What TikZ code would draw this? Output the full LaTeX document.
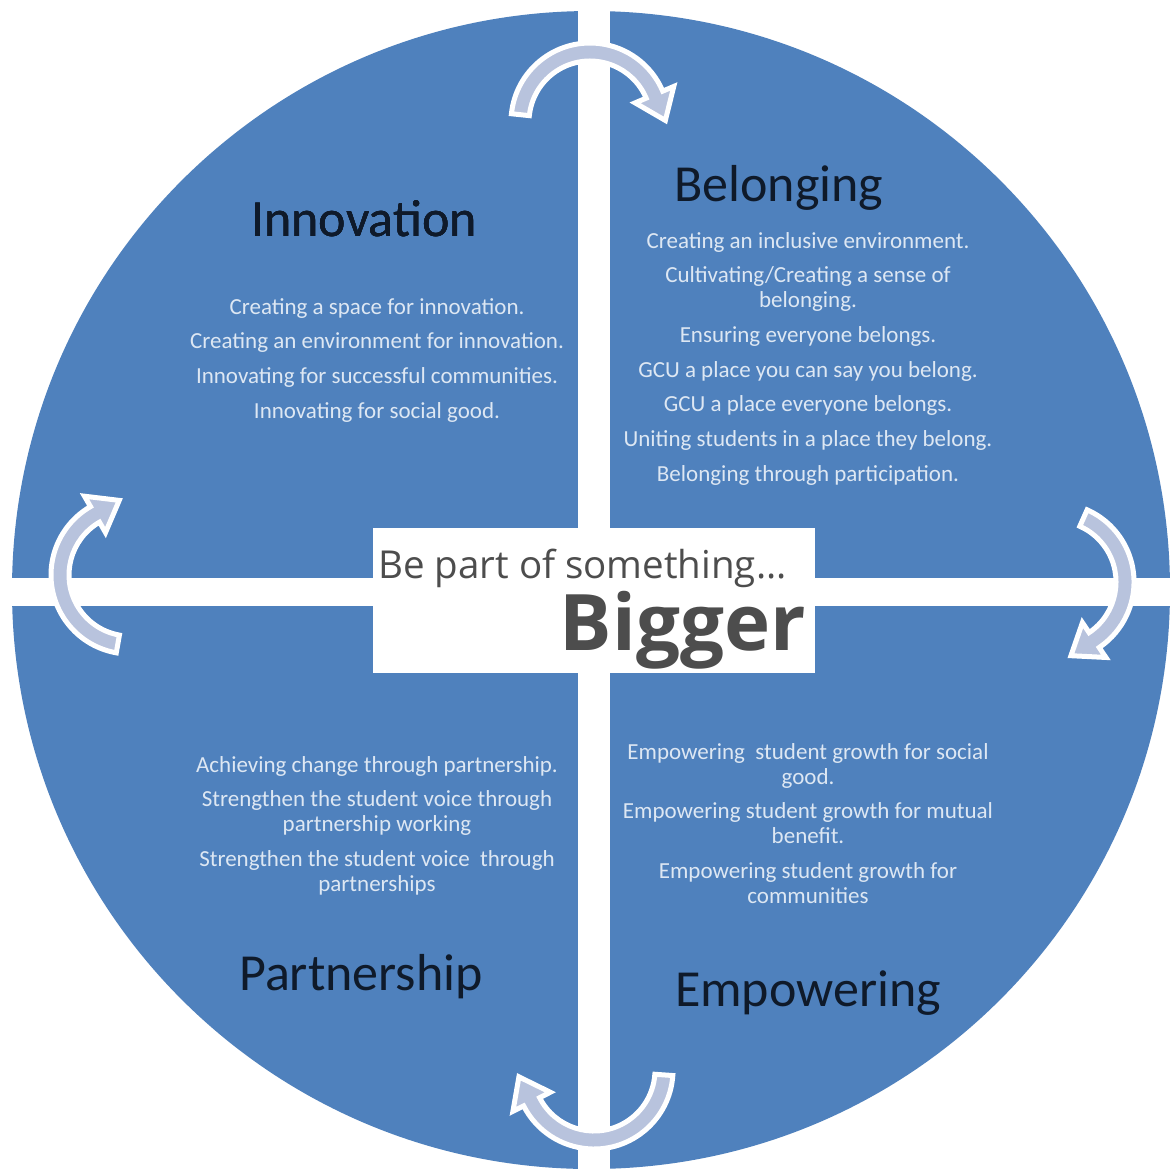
\documentclass[tikz,border=0pt]{standalone}
\usepackage{fontspec}
\setmainfont{Carlito}
\newfontfamily\slogfont{Open Sans}
\usetikzlibrary{calc}
\usepackage{xcolor}
\definecolor{discblue}{HTML}{4F81BD}
\definecolor{itemtext}{HTML}{DDE7F3}
\definecolor{headtext}{HTML}{0F1A2A}
\definecolor{arrowgrey}{HTML}{B8C3DD}
\definecolor{slogan}{HTML}{4D4D4D}
\tikzset{
    heading/.style={text=headtext,font=\fontsize{52}{60}\selectfont,inner sep=0pt,anchor=base},
    items/.style={text=itemtext,align=center,font=\fontsize{23}{25}\selectfont,inner sep=0pt,anchor=north},
    bendarrow/.style={fill=arrowgrey,draw=white,line width=5pt,line join=miter}
}
\newcommand{\bend}[4] {
    \draw[bendarrow] ($(#1,#2)+(#3:79)$) arc[start angle=#3,end angle=#4,radius=79]
        -- ($(#1,#2)+(#4:91)$)
        -- ($(#1,#2)+(#4:70)+({#4+90}:28)$)
        -- ($(#1,#2)+(#4:49)$)
        -- ($(#1,#2)+(#4:61)$)
        arc[start angle=#4,end angle=#3,radius=61] -- cycle;
}

\begin{document}
\begin{tikzpicture}[x=1pt,y=-1pt]
    \useasboundingbox[fill=white] (0,0) rectangle (1172,1171);
    \fill[discblue] (591,590) circle[radius=579];
    \fill[white] (578,0) rectangle (610,1171);
    \fill[white] (0,578) rectangle (1172,606);
    \fill[white] (373,528) rectangle (815,673);
    \foreach \cx/\cy/\from/\to in {590/122/186/337, 1055/582/-66/56, 594/1070/4/153, 130/575/100/240}
        \bend{\cx}{\cy}{\from}{\to}
    \node[heading] (innovation) at (364,236) {Innovation};
    \node[heading] (belonging) at (779,201) {Belonging};
    \node[heading] (partnership) at (361,990) {Partnership};
    \node[heading] (empowering) at (808,1006) {Empowering};
    \node[items] (innovationlist) at (377,298) {Creating a space for innovation.\\[9.7pt]
        Creating an environment for innovation.\\[9.7pt]
        Innovating for successful communities.\\[9.7pt]
        Innovating for social good.};
    \node[items] (belonginglist) at (808,232) {Creating an inclusive environment.\\[9.7pt]
        Cultivating/Creating a sense of\\ belonging.\\[9.7pt]
        Ensuring everyone belongs.\\[9.7pt]
        GCU a place you can say you belong.\\[9.7pt]
        GCU a place everyone belongs.\\[9.7pt]
        Uniting students in a place they belong.\\[9.7pt]
        Belonging through participation.};
    \node[items] (partnershiplist) at (377,756) {Achieving change through partnership.\\[9.7pt]
        Strengthen the student voice through\\ partnership working\\[9.7pt]
        Strengthen the student voice\ \ through\\ partnerships};
    \node[items] (empoweringlist) at (808,743) {Empowering\ \ student growth for social\\ good.\\[9.7pt]
        Empowering student growth for mutual\\ benefit.\\[9.7pt]
        Empowering student growth for\\ communities};
    \node[text=slogan,font=\slogfont\fontsize{38.5}{42}\selectfont,inner sep=0pt,anchor=base west] (tagline) at (378,578) {Be part of something...};
    \node[text=slogan,font=\slogfont\bfseries\fontsize{78}{80}\selectfont,inner sep=0pt,anchor=base east] (bigger) at (806,650) {Bigger};
\end{tikzpicture}
\end{document}
